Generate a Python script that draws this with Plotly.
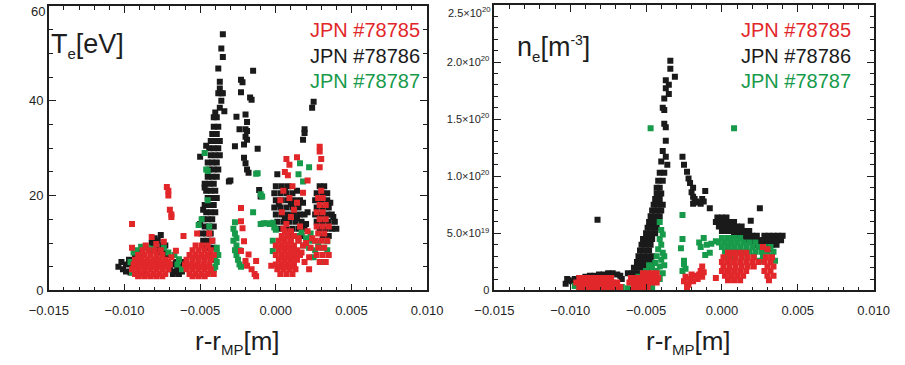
import plotly.graph_objects as go

shots = ["JPN #78785", "JPN #78786", "JPN #78787"]
colors = ["#e2272a", "#1a1a1a", "#179a4a"]
x_ticks = [-0.015, -0.010, -0.005, 0.0, 0.005, 0.010]
te_ticks = [0, 20, 40]
te_top_label = "60"
ne_ticks = [0, 0.5, 1.0, 1.5, 2.0]
ne_ticktext = ["0", "5.0×10<sup>19</sup>", "1.0×10<sup>20</sup>", "1.5×10<sup>20</sup>",
               "2.0×10<sup>20</sup>"]
ne_top_label = "2.5×10<sup>20</sup>"

# ---------------- Te panel: (r - r_MP [m], Te [eV]) ----------------
te_78786 = [
    (-0.0104, 5.0), (-0.0102, 6.0), (-0.0101, 4.5), (-0.0099, 5.5), (-0.0099, 4.0), (-0.0097, 6.5),
    (-0.0096, 3.8), (-0.0095, 5.0), (-0.0093, 7.5), (-0.0091, 8.0), (-0.0089, 7.0), (-0.0090, 3.5),
    (-0.0086, 3.5), (-0.0082, 10.0), (-0.0081, 8.5), (-0.0080, 11.0), (-0.0079, 9.0), (-0.0078, 10.5),
    (-0.0077, 8.0), (-0.0076, 11.7), (-0.0075, 9.5), (-0.0074, 8.0), (-0.0073, 9.5), (-0.0072, 7.5),
    (-0.0077, 6.5), (-0.0068, 5.5), (-0.0067, 4.0), (-0.0066, 6.0), (-0.0065, 4.5), (-0.0064, 3.5),
    (-0.0063, 5.0), (-0.0062, 4.0), (-0.0061, 6.0), (-0.0068, 3.5), (-0.0070, 4.5),
    (-0.0047, 9.0), (-0.0044, 9.0), (-0.0041, 9.0), (-0.0048, 10.5), (-0.0045, 10.5), (-0.0042, 10.5),
    (-0.0049, 12.0), (-0.0046, 12.0), (-0.0043, 12.0), (-0.0047, 13.5), (-0.0044, 13.5), (-0.0041, 13.5),
    (-0.0048, 15.0), (-0.0045, 15.0), (-0.0042, 15.0), (-0.0046, 16.5), (-0.0043, 16.5), (-0.0040, 16.5),
    (-0.0047, 18.0), (-0.0044, 18.0), (-0.0041, 18.0), (-0.0045, 19.5), (-0.0042, 19.5), (-0.0039, 19.5),
    (-0.0046, 21.0), (-0.0043, 21.0), (-0.0040, 21.0), (-0.0047, 22.5), (-0.0044, 22.5), (-0.0041, 22.5),
    (-0.0045, 24.0), (-0.0042, 24.0), (-0.0039, 24.0), (-0.0044, 25.5), (-0.0041, 25.5), (-0.0038, 25.5),
    (-0.0045, 27.0), (-0.0042, 27.0), (-0.0039, 27.0), (-0.0043, 28.5), (-0.0040, 28.5), (-0.0037, 28.5),
    (-0.0044, 30.0), (-0.0041, 30.0), (-0.0038, 30.0), (-0.0043, 31.5), (-0.0040, 31.5), (-0.0037, 31.5),
    (-0.0042, 33.0), (-0.0039, 33.0), (-0.0041, 34.5), (-0.0038, 34.5), (-0.0039, 36.5), (-0.0041, 36.5),
    (-0.0037, 38.5), (-0.0040, 37.5), (-0.0034, 37.8), (-0.0036, 40.0), (-0.0038, 41.6), (-0.0036, 41.6),
    (-0.0035, 41.6), (-0.0037, 42.6), (-0.0037, 44.0), (-0.0038, 46.8), (-0.0035, 49.2), (-0.0036, 51.0),
    (-0.0035, 54.0), (-0.0047, 21.7), (-0.0046, 30.5), (-0.0050, 28.2), (-0.0031, 23.0), (-0.0048, 17.0),
    (-0.0050, 14.0), (-0.0044, 7.5), (-0.0042, 6.5),
    (-0.0015, 46.3), (-0.0023, 44.4), (-0.0022, 43.9), (-0.0023, 41.8), (-0.0016, 40.2), (-0.0017, 40.7),
    (-0.0026, 36.6), (-0.0020, 37.1), (-0.0020, 34.0), (-0.0019, 33.6), (-0.0020, 32.4), (-0.0024, 34.0),
    (-0.0019, 31.8), (-0.0027, 30.4), (-0.0021, 30.8), (-0.0012, 29.9), (-0.0021, 28.0), (-0.0020, 26.8),
    (-0.0018, 24.8), (-0.0030, 23.2), (-0.0011, 21.2), (-0.0010, 19.8), (-0.0019, 25.5), (-0.0019, 35.5),
    (0.0000, 22.0), (0.0004, 22.0), (0.0008, 22.0), (-0.0001, 20.5), (0.0003, 20.5), (0.0007, 20.5),
    (0.0011, 20.5), (0.0000, 19.0), (0.0004, 19.0), (0.0008, 19.0), (0.0012, 19.0), (0.0016, 19.0),
    (-0.0001, 17.5), (0.0003, 17.5), (0.0007, 17.5), (0.0011, 17.5), (0.0015, 17.5), (0.0000, 16.0),
    (0.0004, 16.0), (0.0008, 16.0), (0.0012, 16.0), (0.0016, 16.0), (0.0019, 16.0), (0.0001, 14.5),
    (0.0005, 14.5), (0.0009, 14.5), (0.0013, 14.5), (0.0017, 14.5), (0.0003, 13.0), (0.0007, 13.0),
    (0.0011, 13.0), (0.0015, 13.0), (0.0019, 13.0), (0.0009, 11.5), (0.0013, 11.5), (0.0017, 11.5),
    (0.0001, 24.5), (0.0014, 21.0), (0.0018, 18.5), (0.0020, 14.0), (0.0021, 16.5), (0.0002, 18.2),
    (0.0006, 21.2), (0.0010, 18.2), (0.0014, 15.2), (0.0006, 15.2), (0.0010, 12.2),
    (0.0029, 22.0), (0.0032, 22.0), (0.0027, 20.5), (0.0031, 20.5), (0.0034, 20.5), (0.0026, 19.0),
    (0.0030, 19.0), (0.0034, 19.0), (0.0027, 17.5), (0.0031, 17.5), (0.0035, 17.5), (0.0026, 16.0),
    (0.0030, 16.0), (0.0034, 16.0), (0.0037, 16.0), (0.0027, 14.5), (0.0031, 14.5), (0.0035, 14.5),
    (0.0039, 14.5), (0.0029, 13.0), (0.0033, 13.0), (0.0037, 13.0), (0.0040, 13.0), (0.0031, 11.5),
    (0.0035, 11.5), (0.0038, 15.5), (0.0036, 18.5), (0.0025, 39.8), (0.0024, 38.5), (0.0019, 34.0),
    (0.0019, 33.2), (0.0018, 31.8),
]

te_78787 = [
    (-0.0094, 8.0), (-0.0089, 9.2), (-0.0095, 3.8), (-0.0096, 6.0), (-0.0092, 8.5), (-0.0071, 8.0),
    (-0.0064, 6.6), (-0.0065, 5.5), (-0.0067, 7.5), (-0.0062, 4.5), (-0.0085, 9.0), (-0.0081, 8.8),
    (-0.0074, 9.0), (-0.0047, 29.0), (-0.0046, 25.5), (-0.0045, 25.2), (-0.0045, 19.0), (-0.0049, 15.0),
    (-0.0044, 13.5), (-0.0051, 13.8), (-0.0039, 9.0), (-0.0039, 8.0), (-0.0040, 7.0), (-0.0039, 6.0),
    (-0.0040, 5.0), (-0.0041, 4.5), (-0.0042, 3.8), (-0.0038, 7.5),
    (-0.0027, 14.4), (-0.0028, 13.0), (-0.0027, 12.0), (-0.0028, 10.5), (-0.0026, 9.5), (-0.0027, 8.5),
    (-0.0026, 7.5), (-0.0025, 6.5), (-0.0024, 5.5), (-0.0023, 5.0), (-0.0026, 11.0), (-0.0024, 8.5),
    (-0.0013, 24.6), (-0.0012, 24.7), (-0.0015, 16.5), (-0.0010, 20.3), (-0.0009, 19.8),
    (-0.0010, 14.0), (-0.0008, 14.2), (-0.0006, 14.2), (-0.0004, 14.0), (-0.0002, 14.3),
    (0.0016, 26.8), (0.0022, 26.0), (0.0015, 24.5), (0.0018, 23.0), (-0.0002, 8.3), (-0.0002, 10.5),
    (0.0000, 12.8), (-0.0001, 13.3), (0.0015, 10.6), (0.0018, 9.5), (0.0020, 11.0), (0.0022, 9.0),
    (0.0024, 10.5), (0.0026, 8.5), (0.0028, 10.0), (0.0031, 9.0), (0.0034, 10.4), (0.0034, 8.5),
    (0.0013, 11.5), (0.0017, 12.2), (0.0025, 7.0), (0.0032, 6.0), (0.0012, 9.0), (0.0023, 12.0),
]

te_78785 = [
    (-0.0093, 3.5), (-0.0089, 3.5), (-0.0085, 3.5), (-0.0081, 3.5), (-0.0077, 3.5), (-0.0073, 3.5),
    (-0.0095, 4.5), (-0.0091, 4.5), (-0.0087, 4.5), (-0.0083, 4.5), (-0.0079, 4.5), (-0.0075, 4.5),
    (-0.0071, 4.5), (-0.0094, 5.5), (-0.0090, 5.5), (-0.0086, 5.5), (-0.0082, 5.5), (-0.0078, 5.5),
    (-0.0074, 5.5), (-0.0070, 5.5), (-0.0093, 6.5), (-0.0089, 6.5), (-0.0085, 6.5), (-0.0081, 6.5),
    (-0.0077, 6.5), (-0.0073, 6.5), (-0.0091, 7.5), (-0.0087, 7.5), (-0.0083, 7.5), (-0.0079, 7.5),
    (-0.0075, 7.5), (-0.0088, 8.5), (-0.0084, 8.5), (-0.0080, 8.5), (-0.0076, 8.5),
    (-0.0091, 3.0), (-0.0087, 3.0), (-0.0083, 3.0), (-0.0079, 3.0), (-0.0075, 3.0), (-0.0092, 5.0),
    (-0.0088, 5.0), (-0.0084, 5.0), (-0.0080, 5.0), (-0.0076, 5.0), (-0.0072, 5.0), (-0.0091, 6.0),
    (-0.0087, 6.0), (-0.0083, 6.0), (-0.0079, 6.0), (-0.0075, 6.0), (-0.0071, 6.0),
    (-0.0082, 11.3), (-0.0074, 10.3), (-0.0066, 8.4), (-0.0086, 9.5), (-0.0079, 9.8), (-0.0069, 7.0),
    (-0.0095, 9.0), (-0.0095, 14.0), (-0.0072, 21.8), (-0.0071, 21.0), (-0.0071, 20.0), (-0.0070, 17.0),
    (-0.0069, 16.0), (-0.0069, 15.5),
    (-0.0057, 3.5), (-0.0053, 3.5), (-0.0049, 3.5), (-0.0045, 3.5), (-0.0041, 3.5), (-0.0059, 4.5),
    (-0.0055, 4.5), (-0.0051, 4.5), (-0.0047, 4.5), (-0.0043, 4.5), (-0.0060, 5.5), (-0.0056, 5.5),
    (-0.0052, 5.5), (-0.0048, 5.5), (-0.0044, 5.5), (-0.0059, 6.5), (-0.0055, 6.5), (-0.0051, 6.5),
    (-0.0047, 6.5), (-0.0043, 6.5), (-0.0057, 7.5), (-0.0053, 7.5), (-0.0049, 7.5), (-0.0045, 7.5),
    (-0.0041, 7.5), (-0.0055, 8.5), (-0.0051, 8.5), (-0.0047, 8.5), (-0.0043, 8.5), (-0.0053, 9.5),
    (-0.0049, 9.5), (-0.0045, 9.5), (-0.0055, 3.0), (-0.0051, 3.0), (-0.0047, 3.0), (-0.0057, 5.0),
    (-0.0053, 5.0), (-0.0049, 5.0), (-0.0045, 5.0), (-0.0055, 7.0), (-0.0051, 7.0), (-0.0047, 7.0),
    (-0.0043, 7.0), (-0.0061, 11.5), (-0.0052, 12.0), (-0.0042, 10.5), (-0.0044, 12.0),
    (-0.0023, 17.4), (-0.0023, 14.6), (-0.0022, 13.1), (-0.0021, 10.4), (-0.0023, 8.3), (-0.0020, 6.2),
    (-0.0019, 5.2), (-0.0016, 4.5), (-0.0014, 3.5), (-0.0013, 6.2), (-0.0018, 7.6), (-0.0003, 5.2),
    (-0.0013, 3.0),
    (0.0003, 3.5), (0.0007, 3.5), (0.0011, 3.5), (0.0001, 4.5), (0.0005, 4.5), (0.0009, 4.5),
    (0.0013, 4.5), (0.0000, 5.5), (0.0004, 5.5), (0.0008, 5.5), (0.0012, 5.5), (0.0002, 6.5),
    (0.0006, 6.5), (0.0010, 6.5), (0.0014, 6.5), (0.0000, 7.5), (0.0004, 7.5), (0.0008, 7.5),
    (0.0012, 7.5), (0.0016, 7.5), (0.0002, 8.5), (0.0006, 8.5), (0.0010, 8.5), (0.0014, 8.5),
    (0.0000, 9.5), (0.0004, 9.5), (0.0008, 9.5), (0.0012, 9.5), (0.0018, 9.5), (0.0002, 10.5),
    (0.0006, 10.5), (0.0010, 10.5), (0.0015, 10.5), (0.0004, 11.5), (0.0008, 11.5), (0.0012, 11.5),
    (0.0006, 12.5), (0.0010, 12.5), (0.0002, 5.0), (0.0006, 5.0), (0.0010, 5.0), (0.0004, 7.0),
    (0.0008, 7.0), (0.0012, 7.0), (0.0002, 9.0), (0.0006, 9.0), (0.0010, 9.0), (0.0004, 11.0),
    (0.0007, 27.7), (0.0009, 26.5), (0.0014, 28.1), (0.0006, 25.0), (0.0008, 24.3), (0.0021, 23.2),
    (0.0018, 20.6), (0.0005, 21.0), (0.0009, 19.5), (0.0012, 17.0), (0.0004, 16.5), (0.0007, 14.0),
    (0.0010, 15.5), (0.0014, 18.5), (0.0016, 13.5), (0.0003, 19.0), (0.0011, 22.0), (0.0005, 13.0),
    (0.0029, 6.0), (0.0033, 6.0), (0.0027, 7.5), (0.0031, 7.5), (0.0035, 7.5), (0.0028, 9.0),
    (0.0032, 9.0), (0.0026, 10.5), (0.0030, 10.5), (0.0034, 10.5), (0.0028, 12.0), (0.0032, 12.0),
    (0.0027, 13.5), (0.0031, 13.5), (0.0035, 13.5), (0.0029, 15.0), (0.0033, 15.0), (0.0027, 16.5),
    (0.0031, 16.5), (0.0029, 18.0), (0.0033, 18.0), (0.0028, 19.5), (0.0031, 19.5), (0.0030, 21.0),
    (0.0029, 30.3), (0.0029, 29.3), (0.0030, 27.7), (0.0029, 26.0), (0.0022, 4.5),
    (0.0017, 8.0), (0.0020, 10.0), (0.0022, 7.0), (0.0019, 6.0), (0.0024, 11.0), (0.0021, 12.5),
    (0.0015, 11.0), (0.0023, 9.0),
]

# ---------------- ne panel: (r - r_MP [m], ne [1e20 m^-3]) ----------------
ne_78786 = [
    (-0.0103, 0.06), (-0.0101, 0.09), (-0.0099, 0.08), (-0.0097, 0.10), (-0.0094, 0.11), (-0.0090, 0.12),
    (-0.0087, 0.13), (-0.0084, 0.13), (-0.0081, 0.14), (-0.0078, 0.14), (-0.0075, 0.15), (-0.0072, 0.15),
    (-0.0069, 0.14), (-0.0067, 0.13), (-0.0066, 0.10), (-0.0102, 0.10), (-0.0082, 0.62),
    (-0.0034, 2.01), (-0.0034, 1.94), (-0.0031, 1.87), (-0.0037, 1.84), (-0.0035, 1.80), (-0.0037, 1.77),
    (-0.0035, 1.72), (-0.0038, 1.68), (-0.0039, 1.60), (-0.0038, 1.58), (-0.0038, 1.46), (-0.0037, 1.43),
    (-0.0037, 1.31), (-0.0039, 1.22), (-0.0037, 1.17), (-0.0040, 1.13), (-0.0036, 1.10), (-0.0041, 1.03),
    (-0.0038, 1.03), (-0.0039, 0.96), (-0.0042, 0.96), (-0.0041, 0.90), (-0.0043, 0.90), (-0.0043, 0.85),
    (-0.0040, 0.85), (-0.0044, 0.80), (-0.0041, 0.80), (-0.0045, 0.75), (-0.0042, 0.75), (-0.0039, 0.75),
    (-0.0046, 0.70), (-0.0043, 0.70), (-0.0040, 0.70), (-0.0047, 0.65), (-0.0044, 0.65), (-0.0041, 0.65),
    (-0.0048, 0.60), (-0.0045, 0.60), (-0.0042, 0.60), (-0.0049, 0.55), (-0.0046, 0.55), (-0.0043, 0.55),
    (-0.0050, 0.50), (-0.0047, 0.50), (-0.0044, 0.50), (-0.0052, 0.45), (-0.0049, 0.45), (-0.0046, 0.45),
    (-0.0053, 0.40), (-0.0050, 0.40), (-0.0047, 0.40), (-0.0054, 0.35), (-0.0051, 0.35), (-0.0048, 0.35),
    (-0.0055, 0.30), (-0.0052, 0.30), (-0.0049, 0.30), (-0.0046, 0.30), (-0.0056, 0.25), (-0.0053, 0.25),
    (-0.0050, 0.25), (-0.0047, 0.25), (-0.0058, 0.20), (-0.0055, 0.20), (-0.0052, 0.20), (-0.0049, 0.20),
    (-0.0062, 0.15), (-0.0059, 0.15), (-0.0056, 0.15),
    (-0.0026, 1.17), (-0.0025, 1.10), (-0.0023, 1.04), (-0.0022, 0.98), (-0.0021, 0.94), (-0.0019, 0.90),
    (-0.0020, 0.86), (-0.0019, 0.82), (-0.0019, 0.76), (-0.0018, 0.80), (-0.0017, 0.78), (-0.0016, 0.77),
    (-0.0013, 0.80), (-0.0011, 0.87), (-0.0012, 0.78), (-0.0014, 0.76), (-0.0008, 0.72),
    (-0.0003, 0.64), (0.0000, 0.64), (0.0003, 0.64), (-0.0004, 0.60), (-0.0001, 0.60), (0.0002, 0.60),
    (0.0005, 0.60), (0.0008, 0.60), (-0.0002, 0.56), (0.0001, 0.56), (0.0004, 0.56), (0.0007, 0.56),
    (0.0010, 0.56), (0.0013, 0.56), (0.0000, 0.52), (0.0003, 0.52), (0.0006, 0.52), (0.0009, 0.52),
    (0.0012, 0.52), (0.0015, 0.52), (0.0018, 0.52), (0.0008, 0.48), (0.0011, 0.48), (0.0014, 0.48),
    (0.0017, 0.48), (0.0020, 0.48), (0.0023, 0.48), (0.0028, 0.48), (0.0031, 0.48), (0.0034, 0.48),
    (0.0037, 0.48), (0.0040, 0.48), (0.0016, 0.44), (0.0019, 0.44), (0.0022, 0.44), (0.0025, 0.44),
    (0.0027, 0.44), (0.0030, 0.44), (0.0033, 0.44), (0.0036, 0.44), (0.0039, 0.44), (0.0021, 0.40),
    (0.0024, 0.40), (0.0027, 0.40), (0.0030, 0.40), (0.0033, 0.40), (0.0036, 0.40), (0.0028, 0.36),
    (0.0031, 0.36), (0.0025, 0.72), (0.0019, 0.61),
]

ne_78787 = [
    (-0.0047, 1.42), (0.0008, 1.42),
    (-0.0041, 0.60), (-0.0040, 0.53), (-0.0039, 0.49), (-0.0041, 0.45), (-0.0040, 0.40), (-0.0042, 0.36),
    (-0.0039, 0.33), (-0.0043, 0.30), (-0.0040, 0.27), (-0.0044, 0.24), (-0.0041, 0.21), (-0.0046, 0.20),
    (-0.0048, 0.22), (-0.0043, 0.17), (-0.0050, 0.17), (-0.0039, 0.15), (-0.0045, 0.14), (-0.0052, 0.15),
    (-0.0041, 0.10), (-0.0055, 0.12), (-0.0038, 0.30), (-0.0038, 0.22),
    (-0.0097, 0.04), (-0.0094, 0.02), (-0.0090, 0.01), (-0.0086, 0.02), (-0.0082, 0.01), (-0.0078, 0.02),
    (-0.0074, 0.01), (-0.0070, 0.02), (-0.0066, 0.03), (-0.0062, 0.02), (-0.0058, 0.02), (-0.0054, 0.01),
    (-0.0050, 0.02), (-0.0046, 0.03),
    (-0.0026, 0.66), (-0.0026, 0.45), (-0.0027, 0.37), (-0.0025, 0.26), (-0.0025, 0.23), (-0.0026, 0.17),
    (-0.0024, 0.19), (-0.0015, 0.42), (-0.0012, 0.46), (-0.0014, 0.38), (-0.0011, 0.31), (-0.0008, 0.33),
    (-0.0007, 0.41), (-0.0004, 0.43), (-0.0010, 0.40),
    (0.0000, 0.46), (0.0004, 0.46), (0.0008, 0.46), (0.0012, 0.46), (-0.0002, 0.42), (0.0002, 0.42),
    (0.0006, 0.42), (0.0010, 0.42), (0.0014, 0.42), (0.0018, 0.42), (0.0022, 0.42), (0.0000, 0.38),
    (0.0004, 0.38), (0.0008, 0.38), (0.0012, 0.38), (0.0016, 0.38), (0.0020, 0.38), (0.0024, 0.38),
    (0.0028, 0.38), (0.0032, 0.38), (0.0002, 0.34), (0.0006, 0.34), (0.0010, 0.34), (0.0014, 0.34),
    (0.0018, 0.34), (0.0022, 0.34), (0.0026, 0.34), (0.0030, 0.34), (0.0034, 0.34), (0.0004, 0.30),
    (0.0008, 0.30), (0.0013, 0.30), (0.0021, 0.30), (0.0027, 0.30), (0.0033, 0.30), (0.0035, 0.26),
    (0.0025, 0.26),
]

ne_78785 = [
    (-0.0094, 0.11), (-0.0091, 0.11), (-0.0088, 0.11), (-0.0085, 0.11), (-0.0082, 0.11), (-0.0079, 0.11),
    (-0.0076, 0.11), (-0.0073, 0.11), (-0.0096, 0.07), (-0.0093, 0.07), (-0.0090, 0.07), (-0.0087, 0.07),
    (-0.0084, 0.07), (-0.0081, 0.07), (-0.0078, 0.07), (-0.0075, 0.07), (-0.0072, 0.07), (-0.0069, 0.07),
    (-0.0094, 0.03), (-0.0091, 0.03), (-0.0088, 0.03), (-0.0085, 0.03), (-0.0082, 0.03), (-0.0079, 0.03),
    (-0.0076, 0.03), (-0.0073, 0.03), (-0.0070, 0.03), (-0.0067, 0.03),
    (-0.0052, 0.15), (-0.0049, 0.15), (-0.0046, 0.15), (-0.0043, 0.15), (-0.0060, 0.11), (-0.0057, 0.11),
    (-0.0054, 0.11), (-0.0051, 0.11), (-0.0048, 0.11), (-0.0045, 0.11), (-0.0042, 0.11), (-0.0061, 0.07),
    (-0.0058, 0.07), (-0.0055, 0.07), (-0.0052, 0.07), (-0.0049, 0.07), (-0.0046, 0.07), (-0.0043, 0.07),
    (-0.0058, 0.03), (-0.0055, 0.03), (-0.0052, 0.03), (-0.0049, 0.03),
    (-0.0025, 0.08), (-0.0024, 0.12), (-0.0022, 0.05), (-0.0021, 0.10), (-0.0019, 0.08), (-0.0018, 0.13),
    (-0.0016, 0.10), (-0.0015, 0.14), (-0.0014, 0.17), (-0.0013, 0.12), (-0.0020, 0.14), (-0.0023, 0.03),
    (-0.0012, 0.16), (-0.0013, 0.21), (-0.0004, 0.11),
    (0.0004, 0.33), (0.0008, 0.33), (0.0012, 0.33), (0.0016, 0.33), (0.0001, 0.29), (0.0005, 0.29),
    (0.0009, 0.29), (0.0013, 0.29), (0.0017, 0.29), (0.0021, 0.29), (0.0029, 0.29), (0.0033, 0.29),
    (0.0000, 0.25), (0.0004, 0.25), (0.0008, 0.25), (0.0012, 0.25), (0.0016, 0.25), (0.0020, 0.25),
    (0.0024, 0.25), (0.0028, 0.25), (0.0032, 0.25), (0.0001, 0.21), (0.0005, 0.21), (0.0009, 0.21),
    (0.0013, 0.21), (0.0017, 0.21), (0.0021, 0.21), (0.0030, 0.21), (0.0034, 0.21), (0.0000, 0.17),
    (0.0004, 0.17), (0.0008, 0.17), (0.0012, 0.17), (0.0016, 0.17), (0.0028, 0.17), (0.0032, 0.17),
    (0.0002, 0.13), (0.0006, 0.13), (0.0010, 0.13), (0.0014, 0.13), (0.0030, 0.13), (0.0034, 0.13),
    (0.0004, 0.09), (0.0008, 0.09), (0.0012, 0.09), (0.0031, 0.09), (0.0030, 0.36), (0.0027, 0.38),
]

te_data = {shots[0]: te_78785, shots[1]: te_78786, shots[2]: te_78787}
ne_data = {shots[0]: ne_78785, shots[1]: ne_78786, shots[2]: ne_78787}

FONT = "Liberation Sans, Arial, Helvetica, sans-serif"
INK = "#1e1e1e"
W, H = 905, 365
MS = 6

fig = go.Figure()
draw_order = [1, 2, 0]  # black, green, then red on top
for i in draw_order:
    name = shots[i]
    for pts, xa, ya in ((te_data[name], "x", "y"), (ne_data[name], "x2", "y2")):
        fig.add_trace(go.Scatter(x=[p[0] for p in pts], y=[p[1] for p in pts], mode="markers",
                                 marker=dict(symbol="square", size=MS, color=colors[i], line=dict(width=0)),
                                 xaxis=xa, yaxis=ya, showlegend=False, name=name))

axis_common = dict(showline=True, linecolor=INK, linewidth=1.6, mirror="ticks",
                   ticks="inside", ticklen=7, tickwidth=1, tickcolor=INK,
                   showgrid=False, zeroline=False, ticklabeloverflow="allow",
                   tickfont=dict(family=FONT, size=13, color=INK))
x_minor = dict(dtick=0.001, tick0=0, ticks="inside", ticklen=4, tickcolor=INK)

px_l = (30, 424)
px_r = (494, 889)
plot_bottom, top_l, top_r = 297, 6, 5

fig.update_layout(
    width=W, height=H, margin=dict(l=0, r=0, t=0, b=0),
    paper_bgcolor="white", plot_bgcolor="white",
    font=dict(family=FONT, color=INK),
    xaxis=dict(domain=[px_l[0] / W, px_l[1] / W], range=[-0.015, 0.010], anchor="y",
               tickvals=x_ticks, tickformat=".3f", ticklabelstandoff=7, minor=x_minor, **axis_common),
    yaxis=dict(domain=[1 - plot_bottom / H, 1 - top_l / H], range=[0, 60], anchor="x",
               tickvals=te_ticks, ticklabelstandoff=1,
               minor=dict(dtick=5, tick0=0, ticks="inside", ticklen=4, tickcolor=INK),
               **axis_common),
    xaxis2=dict(domain=[px_r[0] / W, px_r[1] / W], range=[-0.015, 0.010], anchor="y2",
                tickvals=x_ticks, tickformat=".3f", ticklabelstandoff=7, minor=x_minor, **axis_common),
    yaxis2=dict(domain=[1 - plot_bottom / H, 1 - top_r / H], range=[0, 2.5], anchor="x2",
                tickvals=ne_ticks, ticktext=ne_ticktext, ticklabelstandoff=1,
                minor=dict(dtick=0.1, tick0=0, ticks="inside", ticklen=4, tickcolor=INK),
                **{**axis_common, "tickfont": dict(family=FONT, size=11, color=INK)}),
)

ann = []
legend_y = [31, 57, 83]
for i, name in enumerate(shots):
    for xr in (419, 868):
        ann.append(dict(text=name, x=xr / W, y=1 - legend_y[i] / H, xref="paper", yref="paper",
                        xanchor="right", yanchor="middle", showarrow=False,
                        font=dict(family=FONT, size=20, color=colors[i])))
# top y tick labels (drawn slightly inside the figure, as in the original)
ann.append(dict(text=te_top_label, x=28 / W, y=1 - 12 / H, xref="paper", yref="paper",
                xanchor="right", yanchor="middle", showarrow=False,
                font=dict(family=FONT, size=13, color=INK)))
ann.append(dict(text=ne_top_label, x=493 / W, y=1 - 12 / H, xref="paper", yref="paper",
                xanchor="right", yanchor="middle", showarrow=False,
                font=dict(family=FONT, size=11, color=INK)))
sub = "<sub><span style='font-size:15px'>{}</span></sub>"
sup = "<sup><span style='font-size:14px'>{}</span></sup>"
ann.append(dict(text="T" + sub.format("e") + "[eV]", x=30 / W, y=1 - 47 / H, xref="paper", yref="paper",
                xanchor="left", yanchor="middle", showarrow=False,
                font=dict(family=FONT, size=27, color=INK)))
ann.append(dict(text="n" + sub.format("e") + "[m" + sup.format("-3") + "]", x=515 / W, y=1 - 50 / H,
                xref="paper", yref="paper", xanchor="left", yanchor="middle", showarrow=False,
                font=dict(family=FONT, size=27, color=INK)))
for xc in (227, 696):
    ann.append(dict(text="r-r" + sub.format("MP") + "[m]", x=xc / W, y=1 - 350 / H,
                    xref="paper", yref="paper", xanchor="center", yanchor="middle", showarrow=False,
                    font=dict(family=FONT, size=26, color=INK)))
fig.update_layout(annotations=ann)

fig.write_html("out.html")
